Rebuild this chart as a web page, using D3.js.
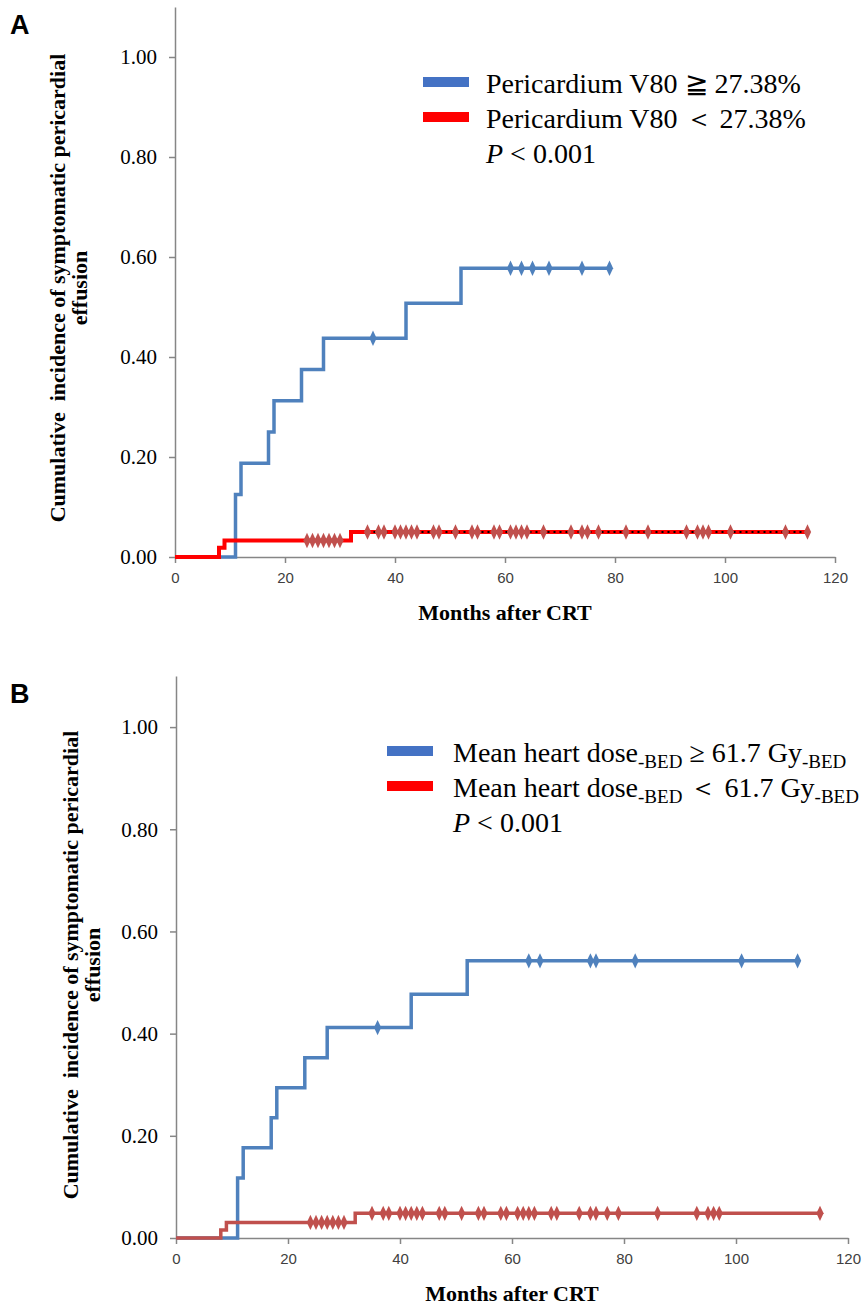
<!DOCTYPE html>
<html>
<head>
<meta charset="utf-8">
<script src="https://cdn.jsdelivr.net/npm/d3@7"></script>
<style>
  body { margin: 0; background: #fff; }
  svg { display: block; }
</style>
</head>
<body>
<svg id="canvas" width="865" height="1307"></svg>
<script>
// ticks
let monthTicks = [0, 20, 40, 60, 80, 100, 120];
let probTicks = [0, 0.2, 0.4, 0.6, 0.8, 1.0];

// panel A : pericardium V80
let aHighTimes = [0, 11, 12, 17, 18, 23, 27, 42, 52, 79];
let aHighCum = [0, 0.125, 0.1875, 0.25, 0.3125, 0.375, 0.4375, 0.5075, 0.5775, 0.5775];
let aHighCensor = [36, 61, 63, 65, 68, 74, 79];
let aLowTimes = [0, 8, 9, 32, 115];
let aLowCum = [0, 0.0185, 0.033, 0.05, 0.05];
let aLowCensor = [24, 25, 26, 27, 28, 29, 30, 35, 37, 38, 40, 41, 42, 43, 44, 47, 48, 51, 54, 55,
  58, 59, 61, 62, 63, 64, 67, 72, 74, 75, 77, 82, 86, 93, 95, 96, 97, 101, 111, 115];
let aDotted = [35, 115];

// panel B : mean heart dose
let bHighTimes = [0, 11, 12, 17, 18, 23, 27, 42, 52, 111];
let bHighCum = [0, 0.1176, 0.1765, 0.2353, 0.2941, 0.3529, 0.4118, 0.4771, 0.5425, 0.5425];
let bHighCensor = [36, 63, 65, 74, 75, 82, 101, 111];
let bLowTimes = [0, 8, 9, 32, 115];
let bLowCum = [0, 0.0155, 0.0305, 0.0483, 0.0483];
let bLowCensor = [24, 25, 26, 27, 28, 29, 30, 35, 37, 38, 40, 41, 42, 43, 44, 47, 48, 51, 54, 55,
  58, 59, 61, 62, 63, 64, 67, 68, 72, 74, 75, 77, 79, 86, 93, 95, 96, 97, 115];

let serif = "'Liberation Serif', 'Times New Roman', serif";
let sans = "'Liberation Sans', Arial, sans-serif";
let axisGray = '#868686';
let blue = '#4f81bd';
let darkRed = '#c0504d';

let canvas = d3.select('#canvas');

let stepAt = (times, cum, t) => {
  let v = cum[0];
  times.forEach((tt, i) => { if (tt <= t) v = cum[i]; });
  return v;
};

let drawPanel = (p) => {
  let x = d3.scaleLinear().domain([0, 120]).range([p.x0, p.x1]);
  let y = d3.scaleLinear().domain([0, 1.1]).range([p.y0, p.y1]);
  let g = canvas.append('g');

  // axes
  let xAxis = g.append('g')
    .attr('transform', 'translate(0,' + p.y0 + ')')
    .call(d3.axisBottom(x).tickValues(monthTicks).tickSize(6).tickSizeOuter(0).tickPadding(9));
  xAxis.select('.domain').attr('stroke', axisGray).attr('stroke-width', 1.5);
  xAxis.selectAll('.tick line').attr('stroke', axisGray).attr('stroke-width', 1.5);
  xAxis.selectAll('.tick text')
    .style('font-family', sans).style('font-size', '15px').attr('fill', '#404040');

  let yAxis = g.append('g')
    .attr('transform', 'translate(' + p.x0 + ',0)')
    .call(d3.axisLeft(y).tickValues(probTicks).tickFormat(d3.format('.2f'))
      .tickSize(6).tickSizeOuter(0).tickPadding(12));
  yAxis.select('.domain').attr('stroke', axisGray).attr('stroke-width', 1.5);
  yAxis.selectAll('.tick line').attr('stroke', axisGray).attr('stroke-width', 1.5);
  yAxis.selectAll('.tick text')
    .style('font-family', serif).style('font-size', '21px').attr('fill', '#000');

  // step curves
  let line = d3.line().x(d => x(d[0])).y(d => y(d[1])).curve(d3.curveStepAfter);
  p.series.forEach(s => {
    let pts = s.times.map((t, i) => [t, s.cum[i]]);
    g.append('path')
      .attr('d', line(pts))
      .attr('fill', 'none')
      .attr('stroke', s.color)
      .attr('stroke-width', s.width)
      .attr('stroke-linejoin', 'miter');
  });

  // dotted overlay
  if (p.dotted) {
    let lv = stepAt(p.series[1].times, p.series[1].cum, p.dotted[0]);
    g.append('line')
      .attr('x1', x(p.dotted[0])).attr('x2', x(p.dotted[1]))
      .attr('y1', y(lv)).attr('y2', y(lv))
      .attr('stroke', '#000').attr('stroke-width', 2.2)
      .attr('stroke-dasharray', '2,4');
  }

  // censor marks
  let diamond = d3.symbol().type(d3.symbolDiamond).size(56);
  p.series.forEach(s => {
    g.selectAll(null)
      .data(s.censor)
      .enter()
      .append('path')
      .attr('d', diamond)
      .attr('transform', d => 'translate(' + x(d) + ',' + y(stepAt(s.times, s.cum, d)) + ') scale(0.9,1.1)')
      .attr('fill', s.markColor);
  });

  // axis titles
  g.append('text')
    .attr('x', (p.x0 + p.x1) / 2).attr('y', p.y0 + 63)
    .attr('text-anchor', 'middle')
    .attr('font-family', serif).attr('font-weight', 'bold').attr('font-size', 22)
    .text('Months after CRT');

  let yt = g.append('text')
    .attr('transform', 'translate(' + p.ytX + ',' + p.ytY + ') rotate(-90)')
    .attr('text-anchor', 'middle')
    .attr('font-family', serif).attr('font-weight', 'bold').attr('font-size', 22);
  yt.append('tspan').attr('x', 0).attr('dy', 0).attr('xml:space', 'preserve')
    .text('Cumulative  incidence of symptomatic pericardial');
  yt.append('tspan').attr('x', 0).attr('dy', 22).text('effusion');

  // panel letter
  g.append('text')
    .attr('x', 10).attr('y', p.letterY)
    .attr('font-family', sans).attr('font-weight', 'bold').attr('font-size', 27)
    .text(p.letter);

  // legend
  let lg = g.append('g').attr('transform', 'translate(' + p.legX + ',' + p.legY + ')');
  lg.append('rect').attr('x', 0).attr('y', -16).attr('width', 46).attr('height', 10).attr('fill', '#4472c4');
  lg.append('rect').attr('x', 0).attr('y', 19).attr('width', 46).attr('height', 10).attr('fill', '#ff0000');
  p.legend.forEach((parts, i) => {
    let t = lg.append('text')
      .attr('x', p.legTextDx).attr('y', i * 35)
      .attr('font-family', serif).attr('font-size', 28).attr('fill', '#000')
      .attr('xml:space', 'preserve');
    parts.forEach(part => {
      let ts = t.append('tspan').text(part.t);
      if (part.sub) ts.attr('font-size', 19).attr('dy', 6);
      if (part.back) ts.attr('dy', -6);
      if (part.it) ts.attr('font-style', 'italic');
    });
  });
};

drawPanel({
  letter: 'A', letterY: 34,
  x0: 175, x1: 835, y0: 557, y1: 7,
  ytX: 65, ytY: 288,
  legX: 423, legY: 93, legTextDx: 63,
  dotted: aDotted,
  series: [
    { times: aHighTimes, cum: aHighCum, censor: aHighCensor, color: blue, markColor: blue, width: 3.5 },
    { times: aLowTimes, cum: aLowCum, censor: aLowCensor, color: '#ff0000', markColor: darkRed, width: 4 }
  ],
  legend: [
    [{ t: 'Pericardium V80 \u2267 27.38%' }],
    [{ t: 'Pericardium V80 \uff1c 27.38%' }],
    [{ t: 'P', it: true }, { t: ' < 0.001' }]
  ]
});

drawPanel({
  letter: 'B', letterY: 703,
  x0: 176, x1: 848, y0: 1238, y1: 676,
  ytX: 78, ytY: 965,
  legX: 387, legY: 762, legTextDx: 66,
  series: [
    { times: bHighTimes, cum: bHighCum, censor: bHighCensor, color: blue, markColor: blue, width: 3.5 },
    { times: bLowTimes, cum: bLowCum, censor: bLowCensor, color: darkRed, markColor: darkRed, width: 3.5 }
  ],
  legend: [
    [{ t: 'Mean heart dose' }, { t: '-BED', sub: true }, { t: ' \u2265 61.7 Gy', back: true }, { t: '-BED', sub: true }],
    [{ t: 'Mean heart dose' }, { t: '-BED', sub: true }, { t: ' \uff1c 61.7 Gy', back: true }, { t: '-BED', sub: true }],
    [{ t: 'P', it: true }, { t: ' < 0.001' }]
  ]
});
</script>
</body>
</html>
